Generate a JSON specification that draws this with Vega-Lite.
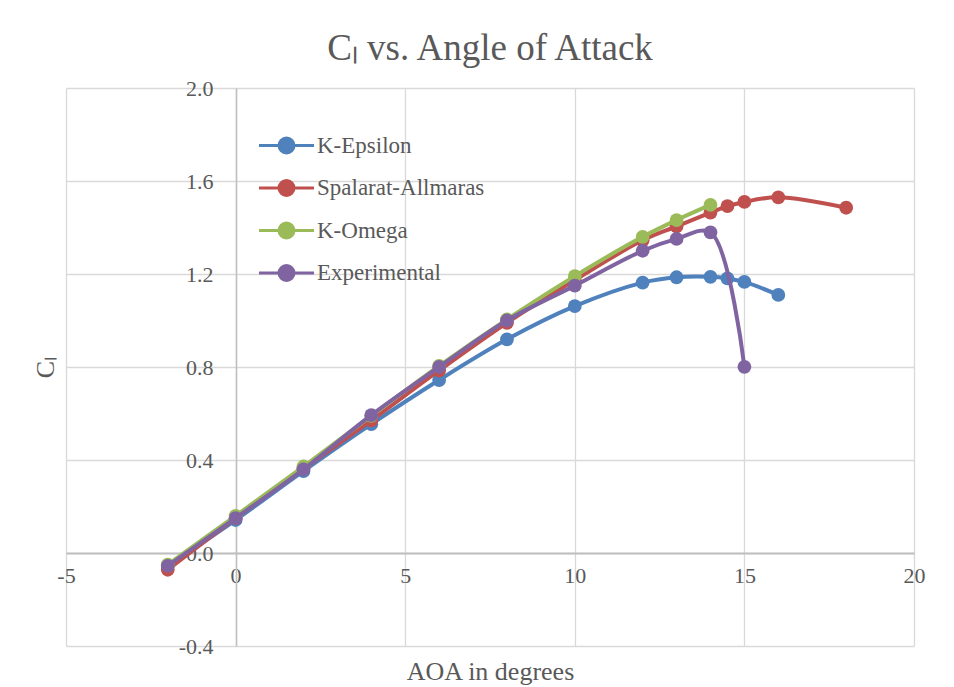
{
  "$schema": "https://vega.github.io/schema/vega-lite/v6.json",
  "width": 848,
  "height": 558,
  "autosize": {"type": "none"},
  "padding": {"left": 66, "top": 88, "right": 40, "bottom": 41},
  "background": "#ffffff",
  "title": {
    "text": "Cₗ vs. Angle of Attack",
    "font": "Liberation Serif",
    "fontSize": 37,
    "fontWeight": "normal",
    "color": "#595959",
    "frame": "group",
    "anchor": "middle",
    "baseline": "alphabetic",
    "offset": -20
  },
  "data": {
    "values": [
      {"model": "K-Epsilon", "aoa": -2, "cl": -0.055},
      {"model": "K-Epsilon", "aoa": 0, "cl": 0.142},
      {"model": "K-Epsilon", "aoa": 2, "cl": 0.352},
      {"model": "K-Epsilon", "aoa": 4, "cl": 0.554},
      {"model": "K-Epsilon", "aoa": 6, "cl": 0.744},
      {"model": "K-Epsilon", "aoa": 8, "cl": 0.919},
      {"model": "K-Epsilon", "aoa": 10, "cl": 1.062},
      {"model": "K-Epsilon", "aoa": 12, "cl": 1.163},
      {"model": "K-Epsilon", "aoa": 13, "cl": 1.186},
      {"model": "K-Epsilon", "aoa": 14, "cl": 1.188},
      {"model": "K-Epsilon", "aoa": 14.5, "cl": 1.181},
      {"model": "K-Epsilon", "aoa": 15, "cl": 1.166},
      {"model": "K-Epsilon", "aoa": 16, "cl": 1.11},
      {"model": "Spalarat-Allmaras", "aoa": -2, "cl": -0.072},
      {"model": "Spalarat-Allmaras", "aoa": 0, "cl": 0.15},
      {"model": "Spalarat-Allmaras", "aoa": 2, "cl": 0.362},
      {"model": "Spalarat-Allmaras", "aoa": 4, "cl": 0.57},
      {"model": "Spalarat-Allmaras", "aoa": 6, "cl": 0.785},
      {"model": "Spalarat-Allmaras", "aoa": 8, "cl": 0.99},
      {"model": "Spalarat-Allmaras", "aoa": 10, "cl": 1.174},
      {"model": "Spalarat-Allmaras", "aoa": 12, "cl": 1.345},
      {"model": "Spalarat-Allmaras", "aoa": 13, "cl": 1.405},
      {"model": "Spalarat-Allmaras", "aoa": 14, "cl": 1.464},
      {"model": "Spalarat-Allmaras", "aoa": 14.5, "cl": 1.492},
      {"model": "Spalarat-Allmaras", "aoa": 15, "cl": 1.51},
      {"model": "Spalarat-Allmaras", "aoa": 16, "cl": 1.53},
      {"model": "Spalarat-Allmaras", "aoa": 18, "cl": 1.485},
      {"model": "K-Omega", "aoa": -2, "cl": -0.05},
      {"model": "K-Omega", "aoa": 0, "cl": 0.16},
      {"model": "K-Omega", "aoa": 2, "cl": 0.372},
      {"model": "K-Omega", "aoa": 4, "cl": 0.59},
      {"model": "K-Omega", "aoa": 6, "cl": 0.805},
      {"model": "K-Omega", "aoa": 8, "cl": 1.005},
      {"model": "K-Omega", "aoa": 10, "cl": 1.191},
      {"model": "K-Omega", "aoa": 12, "cl": 1.36},
      {"model": "K-Omega", "aoa": 13, "cl": 1.432},
      {"model": "K-Omega", "aoa": 14, "cl": 1.497},
      {"model": "Experimental", "aoa": -2, "cl": -0.055},
      {"model": "Experimental", "aoa": 0, "cl": 0.15},
      {"model": "Experimental", "aoa": 2, "cl": 0.36},
      {"model": "Experimental", "aoa": 4, "cl": 0.593},
      {"model": "Experimental", "aoa": 6, "cl": 0.8},
      {"model": "Experimental", "aoa": 8, "cl": 1.0},
      {"model": "Experimental", "aoa": 10, "cl": 1.15},
      {"model": "Experimental", "aoa": 12, "cl": 1.3},
      {"model": "Experimental", "aoa": 13, "cl": 1.351},
      {"model": "Experimental", "aoa": 14, "cl": 1.379},
      {"model": "Experimental", "aoa": 15, "cl": 0.801}
    ]
  },
  "encoding": {
    "x": {
      "field": "aoa",
      "type": "quantitative",
      "scale": {"domain": [-5, 20], "nice": false, "zero": false},
      "axis": {
        "title": "AOA in degrees",
        "values": [-5, 0, 5, 10, 15, 20],
        "format": "d",
        "labelExpr": "replace(datum.label, '−', '-')",
        "offset": -93,
        "domainColor": "#bfbfbf",
        "domainWidth": 2,
        "ticks": false,
        "labelPadding": 12,
        "labelFontSize": 22,
        "labelColor": "#595959",
        "labelFlush": false,
        "labelBound": false,
        "grid": true,
        "gridColor": "#d9d9d9",
        "gridWidth": 1.3,
        "titleFontSize": 26,
        "titleFontWeight": "normal",
        "titleColor": "#595959",
        "titleBaseline": "alphabetic",
        "titleY": 126
      }
    },
    "y": {
      "field": "cl",
      "type": "quantitative",
      "scale": {"domain": [-0.4, 2.0], "nice": false, "zero": false},
      "axis": {
        "title": "Cₗ",
        "values": [-0.4, 0, 0.4, 0.8, 1.2, 1.6, 2.0],
        "format": ".1f",
        "labelExpr": "replace(datum.label, '−', '-')",
        "offset": -170,
        "domainColor": "#bfbfbf",
        "domainWidth": 1.5,
        "ticks": false,
        "labelPadding": 23,
        "labelFontSize": 22,
        "labelColor": "#595959",
        "labelFlush": false,
        "labelBound": false,
        "grid": true,
        "gridColor": "#d9d9d9",
        "gridWidth": 1.3,
        "titleFontSize": 26,
        "titleFontWeight": "normal",
        "titleColor": "#595959",
        "titleAngle": -90,
        "titleAlign": "center",
        "titleBaseline": "middle",
        "titleX": -191,
        "titleY": 279
      }
    },
    "color": {
      "field": "model",
      "type": "nominal",
      "scale": {
        "domain": ["K-Epsilon", "Spalarat-Allmaras", "K-Omega", "Experimental"],
        "range": ["#4f81bd", "#c0504d", "#9bbb59", "#8064a2"]
      },
      "legend": {
        "title": null,
        "orient": "none",
        "legendX": 209,
        "legendY": 46,
        "padding": 0,
        "symbolType": "M-3.67,0L3.67,0M1,0A1,1,0,1,1,-1,0A1,1,0,1,1,1,0",
        "symbolSize": 225,
        "symbolStrokeWidth": 3,
        "labelFontSize": 23,
        "labelColor": "#595959",
        "labelOffset": 19,
        "labelLimit": 400,
        "rowPadding": 15.5,
        "encode": {
          "symbols": {
            "update": {
              "fill": {"scale": "color", "field": "value"},
              "stroke": {"scale": "color", "field": "value"},
              "opacity": {"value": 1}
            }
          }
        }
      }
    }
  },
  "layer": [
    {
      "transform": [{"filter": "datum.model === 'K-Epsilon'"}],
      "mark": {"type": "line", "interpolate": "catmull-rom", "strokeWidth": 4, "point": {"filled": true, "size": 190, "opacity": 1}}
    },
    {
      "transform": [{"filter": "datum.model === 'Spalarat-Allmaras'"}],
      "mark": {"type": "line", "interpolate": "catmull-rom", "strokeWidth": 4, "point": {"filled": true, "size": 190, "opacity": 1}}
    },
    {
      "transform": [{"filter": "datum.model === 'K-Omega'"}],
      "mark": {"type": "line", "interpolate": "catmull-rom", "strokeWidth": 4, "point": {"filled": true, "size": 190, "opacity": 1}}
    },
    {
      "transform": [{"filter": "datum.model === 'Experimental'"}],
      "mark": {"type": "line", "interpolate": "catmull-rom", "strokeWidth": 4, "point": {"filled": true, "size": 190, "opacity": 1}}
    }
  ],
  "config": {
    "font": "Liberation Serif",
    "view": {"stroke": null}
  }
}
